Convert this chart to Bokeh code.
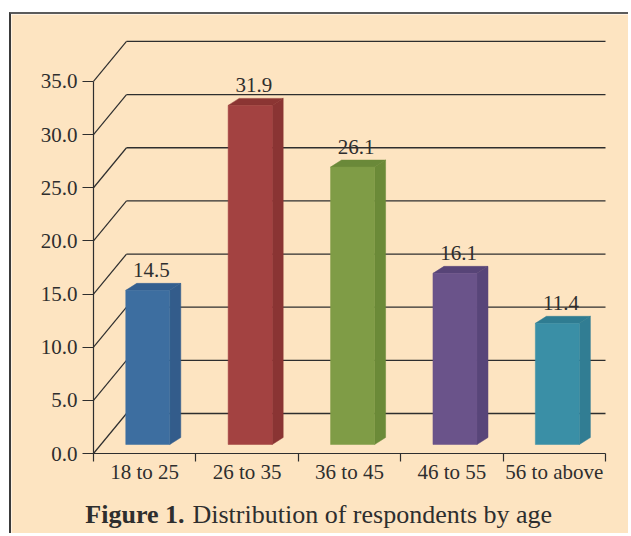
from bokeh.plotting import figure
from bokeh.models import Range1d, FixedTicker, NumeralTickFormatter
from bokeh.core.properties import value
from bokeh.embed import file_html
from bokeh.resources import INLINE

# ---------------- data ----------------
CATEGORIES = ["18 to 25", "26 to 35", "36 to 45", "46 to 55", "56 to above"]
PERCENTS = [14.5, 31.9, 26.1, 16.1, 11.4]
Y_TICKS = [0, 5, 10, 15, 20, 25, 30, 35]
TITLE_BOLD = "Figure 1."
TITLE_REST = "Distribution of respondents by age"

# ---------------- styles ----------------
FRONT_COLORS = ["#3d6ea0", "#a34241", "#7f9c46", "#6a538a", "#3a8fa6"]
SIDE_COLORS = ["#335c8b", "#8a3433", "#6b8a38", "#584579", "#317d93"]
TOP_COLORS = ["#345f8f", "#8b3533", "#6a8939", "#574477", "#2f7c91"]
BG = "#fde4c1"
INK = "#2e2e2e"
FONT = "Liberation Serif"

W, H = 619, 521
ORIGIN_X, ORIGIN_Y = 11, 14      # canvas position on the page
AXIS_X, AXIS_Y = 93, 453         # page pixel of the front-left floor corner
PX_X = 102.4    # pixels per category
PX_Y = 10.63    # pixels per value unit
WALL_DX = 33 / PX_X
WALL_DY = 40 / PX_Y
BAR_W = 0.43
BAR_SHIFT = 0.03
BAR_BASE = 9 / PX_Y
SIDE_DX = 11 / PX_X
SIDE_DY = 7 / PX_Y
CAPTION_Y = -61 / PX_Y
CAPTION_SPLIT_L = (184 - AXIS_X) / PX_X
CAPTION_SPLIT_R = (192 - AXIS_X) / PX_X

n = len(CATEGORIES)

p = figure(width=W, height=H,
           x_range=Range1d((ORIGIN_X - AXIS_X) / PX_X, (ORIGIN_X + W - AXIS_X) / PX_X),
           y_range=Range1d((AXIS_Y - ORIGIN_Y - H) / PX_Y, (AXIS_Y - ORIGIN_Y) / PX_Y),
           output_backend="svg", toolbar_location=None, title=None,
           min_border=0, min_border_left=0, min_border_bottom=0,
           min_border_top=0, min_border_right=0,
           background_fill_color=BG, border_fill_color=BG,
           outline_line_color=None)
p.xgrid.visible = False
p.ygrid.visible = False
p.margin = (ORIGIN_Y - 2, 0, 0, ORIGIN_X - 2)
p.styles = {"border-top": "2px solid #5b5b5b", "border-left": "2px solid #3a3a3a"}

# back wall gridlines and side-wall diagonals
p.segment(x0=[WALL_DX] * len(Y_TICKS), y0=[t + WALL_DY for t in Y_TICKS],
          x1=[n] * len(Y_TICKS), y1=[t + WALL_DY for t in Y_TICKS],
          line_color=INK, line_width=1.3)
p.segment(x0=[0] * len(Y_TICKS), y0=Y_TICKS,
          x1=[WALL_DX] * len(Y_TICKS), y1=[t + WALL_DY for t in Y_TICKS],
          line_color=INK, line_width=1.2)

# bars
centers = [i + 0.5 + BAR_SHIFT for i in range(n)]
lefts = [c - BAR_W / 2 for c in centers]
rights = [c + BAR_W / 2 for c in centers]
bottoms = [BAR_BASE] * n
tops = [BAR_BASE + v for v in PERCENTS]

side_xs = [[r, r + SIDE_DX, r + SIDE_DX, r] for r in rights]
side_ys = [[b, b + SIDE_DY, t + SIDE_DY, t] for b, t in zip(bottoms, tops)]
top_xs = [[l, r, r + SIDE_DX, l + SIDE_DX] for l, r in zip(lefts, rights)]
top_ys = [[t, t, t + SIDE_DY, t + SIDE_DY] for t in tops]

p.patches(xs=side_xs, ys=side_ys, fill_color=SIDE_COLORS, line_color=SIDE_COLORS, line_width=0.5)
p.patches(xs=top_xs, ys=top_ys, fill_color=TOP_COLORS, line_color=TOP_COLORS, line_width=0.5)
p.quad(left=lefts, right=rights, bottom=bottoms, top=tops,
       fill_color=FRONT_COLORS, line_color=FRONT_COLORS, line_width=0.5)

# value labels
p.text(x=[c + SIDE_DX / 3 for c in centers], y=[t + SIDE_DY for t in tops],
       text=[f"{v:.1f}" for v in PERCENTS],
       text_align="center", text_baseline="alphabetic", y_offset=-13,
       text_font=value(FONT), text_font_size="21px", text_color=INK)

# y axis (front edge of the side wall)
yax = p.yaxis[0]
yax.fixed_location = 0
yax.ticker = FixedTicker(ticks=Y_TICKS, minor_ticks=[])
yax.formatter = NumeralTickFormatter(format="0.0")
yax.bounds = (0, max(Y_TICKS))
yax.axis_line_color = INK
yax.axis_line_width = 1.2
yax.major_tick_line_color = INK
yax.major_tick_line_width = 1.2
yax.major_tick_out = 11
yax.major_tick_in = 0
yax.minor_tick_out = 0
yax.minor_tick_in = 0
yax.major_label_standoff = 5
yax.major_label_text_font = FONT
yax.major_label_text_font_size = "21px"
yax.major_label_text_color = INK

# x axis (front edge of the floor)
xax = p.xaxis[0]
xax.fixed_location = 0
xax.ticker = FixedTicker(ticks=[i + 0.5 for i in range(n)], minor_ticks=list(range(n + 1)))
xax.major_label_overrides = {i + 0.5: c for i, c in enumerate(CATEGORIES)}
xax.bounds = (0, n)
xax.axis_line_color = INK
xax.axis_line_width = 1.2
xax.major_tick_out = 0
xax.major_tick_in = 0
xax.minor_tick_out = 8
xax.minor_tick_in = 0
xax.minor_tick_line_color = INK
xax.minor_tick_line_width = 1.2
xax.major_label_standoff = -2
xax.major_label_text_font = FONT
xax.major_label_text_font_size = "21px"
xax.major_label_text_color = INK

# caption
p.text(x=[CAPTION_SPLIT_L], y=[CAPTION_Y], text=[TITLE_BOLD],
       text_align="right", text_baseline="alphabetic",
       text_font=value(FONT), text_font_size="26px", text_font_style="bold",
       text_color=INK)
p.text(x=[CAPTION_SPLIT_R], y=[CAPTION_Y], text=[TITLE_REST],
       text_align="left", text_baseline="alphabetic",
       text_font=value(FONT), text_font_size="26px", text_color=INK)

open("out.html", "w").write(file_html(p, INLINE))
